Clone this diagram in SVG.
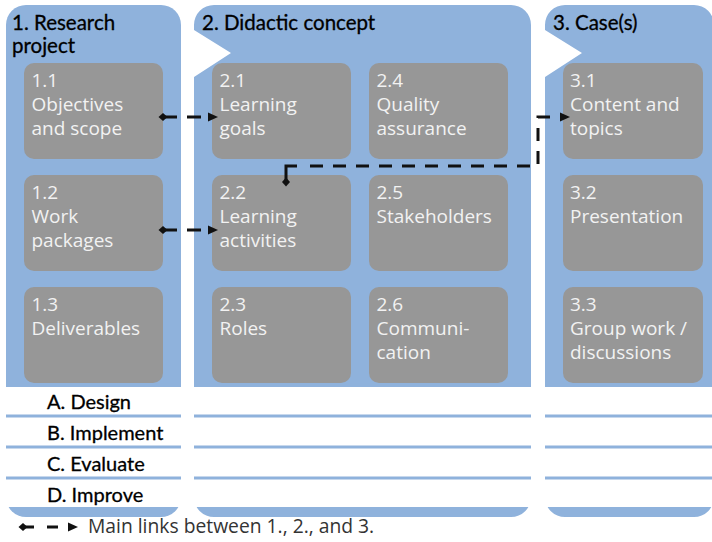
<svg xmlns="http://www.w3.org/2000/svg" width="712" height="542" viewBox="0 0 712 542">
<style>
.col{fill:#8FB2DC}
.box{fill:#979797}
.bt{font-family:"Open Sans","DejaVu Sans",sans-serif;font-size:19px;fill:#F2F2F2}
.hd{font-family:Lato,"Liberation Sans",sans-serif;font-size:20.5px;fill:#000;stroke:#000;stroke-width:0.3}
.rl{font-family:Lato,"Liberation Sans",sans-serif;font-size:20px;fill:#000;stroke:#000;stroke-width:0.3}
.lg{font-family:"Open Sans","DejaVu Sans",sans-serif;font-size:19.3px;fill:#333}
.sep{stroke:#8FB2DC;stroke-width:3;fill:none}
.cn{stroke:#111;stroke-width:3;fill:none}
.dash{stroke-dasharray:13 10}
</style>
<defs>
<marker id="arr" markerUnits="userSpaceOnUse" markerWidth="11" markerHeight="10" refX="0" refY="5" orient="auto" overflow="visible">
<path d="M0,0.5 L10,5 L0,9.5 Z" fill="#111"/>
</marker>
<marker id="dia" markerUnits="userSpaceOnUse" markerWidth="9" markerHeight="9" refX="4.5" refY="4.5" orient="auto" overflow="visible">
<path d="M0,4.5 L4.5,0.5 L9,4.5 L4.5,8.5 Z" fill="#111"/>
</marker>
</defs>
<rect width="712" height="542" fill="#fff"/>
<g id="col1">
<rect class="col" x="6" y="5" width="175" height="512" rx="20"/>
</g>
<g id="col2">
<path class="col" d="M214,5 H511 A20,20 0 0 1 531,25 V497 A20,20 0 0 1 511,517 H214 A20,20 0 0 1 194,497 V77 L231,53 L194,30 V25 A20,20 0 0 1 214,5 Z"/>
</g>
<g id="col3">
<path class="col" d="M565,5 H694 A20,20 0 0 1 714,25 V497 A20,20 0 0 1 694,517 H565 A20,20 0 0 1 545,497 V77 L582,53 L545,30 V25 A20,20 0 0 1 565,5 Z"/>
</g>
<rect x="0" y="387" width="712" height="120" fill="#fff"/>
<g id="rows">
<path class="sep" d="M6,416 H181 M194,416 H531 M545,416 H712 M6,447 H181 M194,447 H531 M545,447 H712 M6,478 H181 M194,478 H531 M545,478 H712"/>
<text class="rl" x="47" y="409">A. Design</text>
<text class="rl" x="47" y="440">B. Implement</text>
<text class="rl" x="47" y="471">C. Evaluate</text>
<text class="rl" x="47" y="502">D. Improve</text>
</g>
<g id="headers">
<text class="hd" x="12" y="30">1. Research</text>
<text class="hd" x="12" y="53">project</text>
<text class="hd" x="202" y="30">2. Didactic concept</text>
<text class="hd" x="553" y="30">3. Case(s)</text>
</g>
<g id="n11"><rect class="box" x="24" y="63" width="139" height="96" rx="10"/><text class="bt" x="31.5" y="87">1.1</text><text class="bt" x="31.5" y="111">Objectives</text><text class="bt" x="31.5" y="135">and scope</text></g>
<g id="n12"><rect class="box" x="24" y="175" width="139" height="96" rx="10"/><text class="bt" x="31.5" y="199">1.2</text><text class="bt" x="31.5" y="223">Work</text><text class="bt" x="31.5" y="247">packages</text></g>
<g id="n13"><rect class="box" x="24" y="287" width="139" height="96" rx="10"/><text class="bt" x="31.5" y="311">1.3</text><text class="bt" x="31.5" y="335">Deliverables</text></g>
<g id="n21"><rect class="box" x="212" y="63" width="139" height="96" rx="10"/><text class="bt" x="219.5" y="87">2.1</text><text class="bt" x="219.5" y="111">Learning</text><text class="bt" x="219.5" y="135">goals</text></g>
<g id="n22"><rect class="box" x="212" y="175" width="139" height="96" rx="10"/><text class="bt" x="219.5" y="199">2.2</text><text class="bt" x="219.5" y="223">Learning</text><text class="bt" x="219.5" y="247">activities</text></g>
<g id="n23"><rect class="box" x="212" y="287" width="139" height="96" rx="10"/><text class="bt" x="219.5" y="311">2.3</text><text class="bt" x="219.5" y="335">Roles</text></g>
<g id="n24"><rect class="box" x="369" y="63" width="139" height="96" rx="10"/><text class="bt" x="376.5" y="87">2.4</text><text class="bt" x="376.5" y="111">Quality</text><text class="bt" x="376.5" y="135">assurance</text></g>
<g id="n25"><rect class="box" x="369" y="175" width="139" height="96" rx="10"/><text class="bt" x="376.5" y="199">2.5</text><text class="bt" x="376.5" y="223">Stakeholders</text></g>
<g id="n26"><rect class="box" x="369" y="287" width="139" height="96" rx="10"/><text class="bt" x="376.5" y="311">2.6</text><text class="bt" x="376.5" y="335">Communi-</text><text class="bt" x="376.5" y="359">cation</text></g>
<g id="n31"><rect class="box" x="563" y="63" width="140" height="96" rx="10"/><text class="bt" x="570" y="87">3.1</text><text class="bt" x="570" y="111">Content and</text><text class="bt" x="570" y="135">topics</text></g>
<g id="n32"><rect class="box" x="563" y="175" width="140" height="96" rx="10"/><text class="bt" x="570" y="199">3.2</text><text class="bt" x="570" y="223">Presentation</text></g>
<g id="n33"><rect class="box" x="563" y="287" width="140" height="96" rx="10"/><text class="bt" x="570" y="311">3.3</text><text class="bt" x="570" y="335">Group work /</text><text class="bt" x="570" y="359">discussions</text></g>
<g id="connectors">
<path class="cn" d="M163,117 H208" stroke-dasharray="14 10" marker-start="url(#dia)" marker-end="url(#arr)"/>
<path class="cn" d="M163,230 H208" stroke-dasharray="14 10" marker-start="url(#dia)" marker-end="url(#arr)"/>
<path class="cn" d="M286,182 V166 H297" marker-start="url(#dia)"/>
<path class="cn dash" d="M310,166 H538 V117 H560" marker-end="url(#arr)"/>
</g>
<g id="legend">
<path class="cn" d="M23,527 H68" stroke-dasharray="11 13 11 100" marker-start="url(#dia)" marker-end="url(#arr)"/>
<text class="lg" x="88" y="533">Main links between 1., 2., and 3.</text>
</g>
</svg>
